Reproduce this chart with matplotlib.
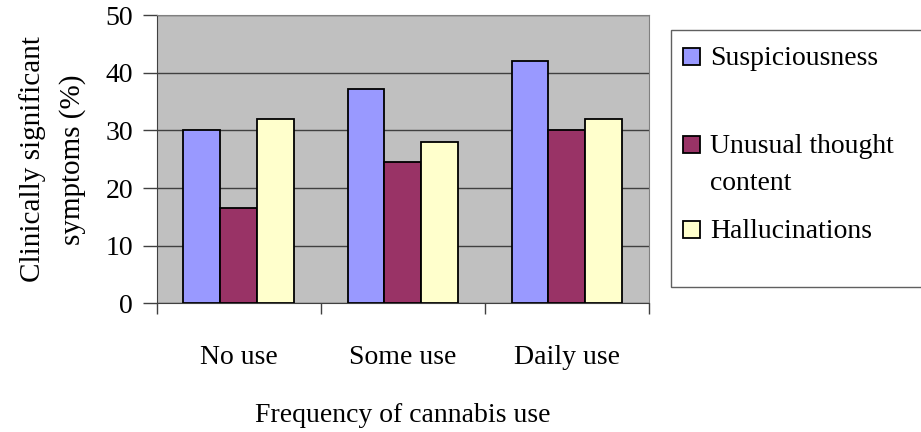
import matplotlib
matplotlib.use('Agg')
import matplotlib.pyplot as plt
import numpy as np
from matplotlib.patches import Rectangle

categories = ['No use', 'Some use', 'Daily use']
series_names = ['Suspiciousness', 'Unusual thought\ncontent', 'Hallucinations']
suspiciousness = [30, 37.2, 42]
unusual_thought = [16.5, 24.6, 30.1]
hallucinations = [32, 28, 32]
colors = ['#9999FF', '#993366', '#FFFFCC']
y_ticks = [0, 10, 20, 30, 40, 50]

plt.rcParams['font.family'] = ['Liberation Serif', 'DejaVu Serif']
fs = 20

fig = plt.figure(figsize=(9.21, 4.32), dpi=100)
ax = fig.add_axes([0.170, 0.298, 0.5344, 0.6667])

x = np.arange(len(categories))
width = 0.224
values = [suspiciousness, unusual_thought, hallucinations]
for i, (vals, col) in enumerate(zip(values, colors)):
    ax.bar(x + (i - 1) * width, vals, width, color=col, edgecolor='black',
           linewidth=1.3, zorder=3)

ax.set_facecolor('#C0C0C0')
ax.set_xlim(-0.5, 2.5)
ax.set_ylim(0, 50)
ax.set_yticks(y_ticks)
ax.yaxis.grid(True, color='#404040', linewidth=1.0, zorder=1)

# category labels centred, tick marks between the categories
ax.set_xticks(x)
ax.set_xticklabels(categories, fontsize=fs)
ax.tick_params(axis='x', which='major', length=0, pad=30)
ax.set_xticks(np.arange(-0.5, 3, 1), minor=True)
ax.tick_params(axis='x', which='minor', length=8, width=1, color='#404040')
ax.tick_params(axis='y', labelsize=fs, length=10, width=1, color='#404040', pad=7)

for side in ['top', 'right']:
    ax.spines[side].set_color('#808080')
for side in ['left', 'bottom']:
    ax.spines[side].set_color('#404040')

ax.set_xlabel('Frequency of cannabis use', fontsize=fs, labelpad=24)
ax.set_ylabel('Clinically significant\nsymptoms (%)', fontsize=21, labelpad=14,
              linespacing=1.65)

# legend box drawn on the figure
fig.add_artist(Rectangle((671 / 921, 1 - 287 / 432), 260 / 921, 257 / 432,
                         transform=fig.transFigure, facecolor='white',
                         edgecolor='#606060', linewidth=1.0))
legend_baselines = [65, 153, 238]
line_step = 37
for name, col, yb in zip(series_names, colors, legend_baselines):
    fig.add_artist(Rectangle((683 / 921, 1 - yb / 432), 17 / 921, 17 / 432,
                             transform=fig.transFigure, facecolor=col,
                             edgecolor='black', linewidth=1.3))
    for k, line in enumerate(name.split('\n')):
        fig.text(710 / 921, 1 - (yb + k * line_step) / 432, line, fontsize=fs,
                 va='baseline', ha='left')

fig.savefig('out.png', dpi=100)
